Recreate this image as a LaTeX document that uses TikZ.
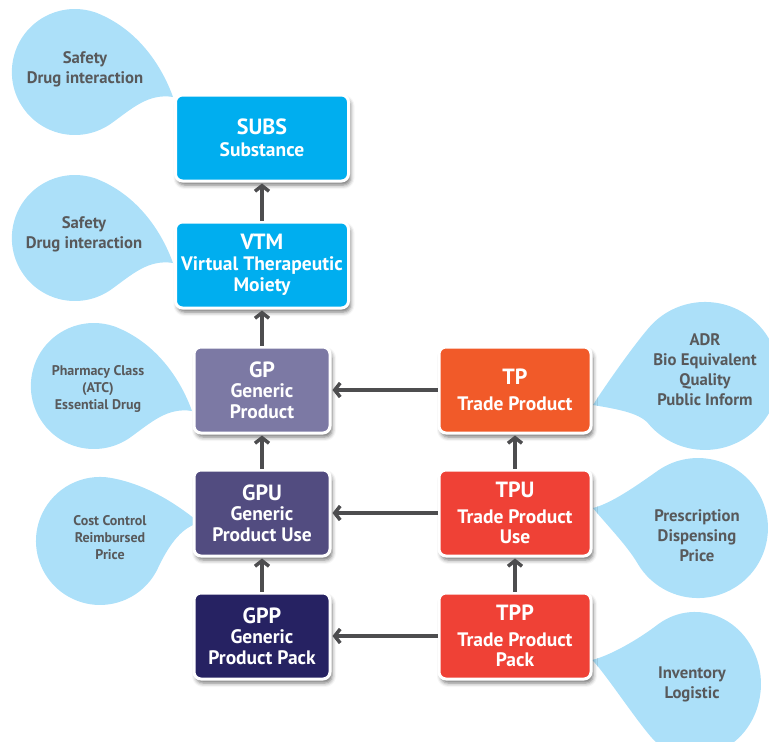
\documentclass[tikz,border=0pt]{standalone}
\usepackage{fontspec}
\setmainfont{PT Sans}
\usepackage{tikz}
\usetikzlibrary{arrows.meta,shadows.blur}

\definecolor{subscyan}{RGB}{0,174,239}
\definecolor{gpgrey}{RGB}{124,121,164}
\definecolor{gpuviolet}{RGB}{82,76,128}
\definecolor{gppnavy}{RGB}{38,34,98}
\definecolor{tporange}{RGB}{241,90,41}
\definecolor{tpred}{RGB}{239,65,54}
\definecolor{droplight}{RGB}{172,224,249}
\definecolor{notegrey}{RGB}{88,89,91}
\definecolor{arrowgrey}{RGB}{77,77,79}

\newcommand{\boxttl}[1]{{\fontsize{22}{21}\selectfont #1}}

\begin{document}
\begin{tikzpicture}[x=1pt,y=-1pt,
  box/.style={rectangle,rounded corners=7pt,draw=white,line width=3pt,text=white,
    font=\bfseries\fontsize{19.5}{20.5}\selectfont,align=center,minimum height=86pt,
    blur shadow={shadow xshift=2pt,shadow yshift=-4pt,shadow blur radius=4pt,shadow opacity=55}},
  note/.style={text=notegrey,font=\bfseries\fontsize{16.7}{20}\selectfont,align=center},
  smallnote/.style={note,font=\bfseries\fontsize{14}{17}\selectfont},
  arr/.style={draw=arrowgrey,line width=3.5pt,shorten >=1pt,-{Straight Barb[length=5.5pt,width=14pt]}}]
  \useasboundingbox (0,0) rectangle (769,742);
  \clip (0,0) rectangle (769,742);

  % drops on the left
  \fill[droplight] (173,97) .. controls (148,93) and (131.5,109) .. (111,123.6)
    arc[start angle=55,end angle=290,radius=63] .. controls (140,30) and (163,69) .. (173,97) -- cycle;
  \fill[droplight,shift={(0,166)}] (173,97) .. controls (148,93) and (131.5,109) .. (111,123.6)
    arc[start angle=55,end angle=290,radius=63] .. controls (140,30) and (163,69) .. (173,97) -- cycle;
  \fill[droplight,shift={(19,314)}] (173,97) .. controls (148,93) and (131.5,109) .. (111,123.6)
    arc[start angle=55,end angle=290,radius=63] .. controls (140,30) and (163,69) .. (173,97) -- cycle;
  \fill[droplight] (200,523) .. controls (180,526.5) and (166.5,550) .. (158,568)
    arc[start angle=25,end angle=280,radius=64] .. controls (150,485) and (180.6,507.3) .. (200,523) -- cycle;

  % drops on the right
  \fill[droplight] (593,405) .. controls (603.6,388) and (632,347.5) .. (648.3,328.4)
    arc[start angle=-140,end angle=140,radius=74] .. controls (638.7,412.1) and (613,408.5) .. (593,405) -- cycle;
  \fill[droplight] (593,508) .. controls (612.4,503.2) and (639.8,483.3) .. (657.8,470.7)
    arc[start angle=-125,end angle=150,radius=70] .. controls (627.4,545.7) and (602.2,519.8) .. (593,508) -- cycle;
  \fill[droplight] (592,660) .. controls (611.4,655.2) and (639.6,638.4) .. (657.1,625)
    arc[start angle=-125,end angle=125,x radius=66,y radius=72] .. controls (645,734) and (603.3,669.8) .. (592,660) -- cycle;

  \node[note] (safety1) at (85,69) {Safety\\Drug interaction};
  \node[note] (safety2) at (84,234) {Safety\\Drug interaction};
  \node[smallnote] (pharm) at (98,389) {Pharmacy Class\\(ATC)\\Essential Drug};
  \node[smallnote] (cost) at (110,538) {Cost Control\\Reimbursed\\Price};
  \node[note] (adr) at (705,370) {ADR\\Bio Equivalent\\Quality\\Public Inform};
  \node[note] (presc) at (697,536) {Prescription\\Dispensing\\Price};
  \node[note] (invent) at (692,684) {Inventory\\Logistic};

  % generic side
  \node[box,fill=subscyan,minimum width=173pt] (subs) at (262,138) {\boxttl{SUBS}\\[1pt]Substance};
  \node[box,fill=subscyan,minimum width=173pt] (vtm) at (262,265) {\boxttl{VTM}\\Virtual Therapeutic\\[1pt]Moiety};
  \node[box,fill=gpgrey,minimum width=136pt] (gp) at (262,390) {\boxttl{GP}\\Generic\\Product};
  \node[box,fill=gpuviolet,minimum width=136pt] (gpu) at (262,513) {\boxttl{GPU}\\Generic\\Product Use};
  \node[box,fill=gppnavy,minimum width=136pt] (gpp) at (262,636) {\boxttl{GPP}\\Generic\\Product Pack};

  % trade side
  \node[box,fill=tporange,minimum width=152pt] (tp) at (515,390) {\boxttl{TP}\\[5pt]Trade Product};
  \node[box,fill=tpred,minimum width=152pt] (tpu) at (515,513) {\boxttl{TPU}\\[5pt]Trade Product\\Use};
  \node[box,fill=tpred,minimum width=152pt] (tpp) at (515,636) {\boxttl{TPP}\\[5pt]Trade Product\\Pack};

  \draw[arr] (vtm) -- (subs);
  \draw[arr] (gp) -- (vtm);
  \draw[arr] (gpu) -- (gp);
  \draw[arr] (gpp) -- (gpu);
  \draw[arr] (tpu) -- (tp);
  \draw[arr] (tpp) -- (tpu);
  \draw[arr] (tp) -- (gp);
  \draw[arr] (tpu) -- (gpu);
  \draw[arr] (tpp) -- (gpp);
\end{tikzpicture}
\end{document}
